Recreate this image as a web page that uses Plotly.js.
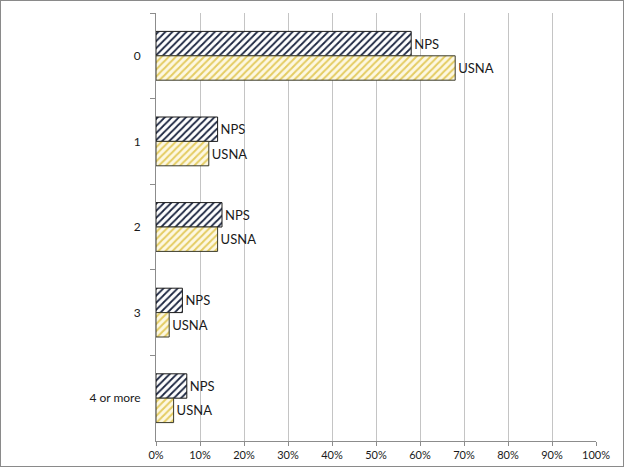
<!DOCTYPE html>
<html>
<head>
<meta charset="utf-8">
<script src="https://cdn.plot.ly/plotly-3.0.1.min.js"></script>
<style>
  html, body { margin: 0; padding: 0; background: #fff; }
  #wrap { width: 624px; height: 467px; box-sizing: border-box; border: 1px solid #8a8a8a; overflow: hidden; }
  #chart { width: 622px; height: 465px; }
</style>
</head>
<body>
<div id="wrap"><div id="chart"></div></div>
<script>
const categories = ['0', '1', '2', '3', '4 or more'];
const npsValues  = [58, 14, 15, 6, 7];
const usnaValues = [68, 12, 14, 3, 4];
const seriesNames = ['NPS', 'USNA'];
const xTickVals = [0, 10, 20, 30, 40, 50, 60, 70, 80, 90, 100];
const xTickText = ['0%', '10%', '20%', '30%', '40%', '50%', '60%', '70%', '80%', '90%', '100%'];

const labelFont = { family: 'Lato, "Liberation Sans", sans-serif', size: 13, color: '#1a1a1a' };

const traces = [
  {
    type: 'bar', orientation: 'h', name: seriesNames[0],
    y: categories, x: npsValues,
    text: categories.map(() => seriesNames[0]),
    textposition: 'outside', cliponaxis: false,
    textfont: labelFont,
    marker: {
      color: '#ffffff',
      line: { color: '#1a1a1a', width: 1 },
      pattern: { shape: '/', fgcolor: '#1b2540', bgcolor: '#ffffff', size: 5, solidity: 0.35 }
    },
    hoverinfo: 'x+y'
  },
  {
    type: 'bar', orientation: 'h', name: seriesNames[1],
    y: categories, x: usnaValues,
    text: categories.map(() => seriesNames[1]),
    textposition: 'outside', cliponaxis: false,
    textfont: labelFont,
    marker: {
      color: '#fdf7dc',
      line: { color: '#3a3a2a', width: 1 },
      pattern: { shape: '/', fgcolor: '#e4cc62', bgcolor: '#fdf8e2', size: 5, solidity: 0.4 }
    },
    hoverinfo: 'x+y'
  }
];

const layout = {
  width: 622, height: 465,
  margin: { l: 155, r: 27, t: 12, b: 25, pad: 0 },
  paper_bgcolor: '#ffffff', plot_bgcolor: '#ffffff',
  showlegend: false,
  barmode: 'group',
  bargap: 0.43, bargroupgap: 0,
  font: { family: 'Lato, "Liberation Sans", sans-serif', size: 11, color: '#1a1a1a' },
  xaxis: {
    range: [0, 100], tickmode: 'array', tickvals: xTickVals, ticktext: xTickText,
    showgrid: true, gridcolor: '#c4c4c4', gridwidth: 1,
    showline: true, linecolor: '#8c8c8c', linewidth: 1,
    ticks: 'outside', ticklen: 4, tickcolor: '#8c8c8c',
    zeroline: false, fixedrange: true,
    tickfont: { size: 11 }
  },
  yaxis: {
    type: 'category', autorange: 'reversed',
    showline: true, linecolor: '#8c8c8c', linewidth: 1,
    ticks: 'outside', ticklen: 5, tickcolor: '#8c8c8c', tickson: 'boundaries',
    showgrid: false, zeroline: false, fixedrange: true,
    ticklabelstandoff: 12,
    tickfont: { size: 12 }
  }
};

Plotly.newPlot('chart', traces, layout, { displayModeBar: false, staticPlot: true });
</script>
</body>
</html>
